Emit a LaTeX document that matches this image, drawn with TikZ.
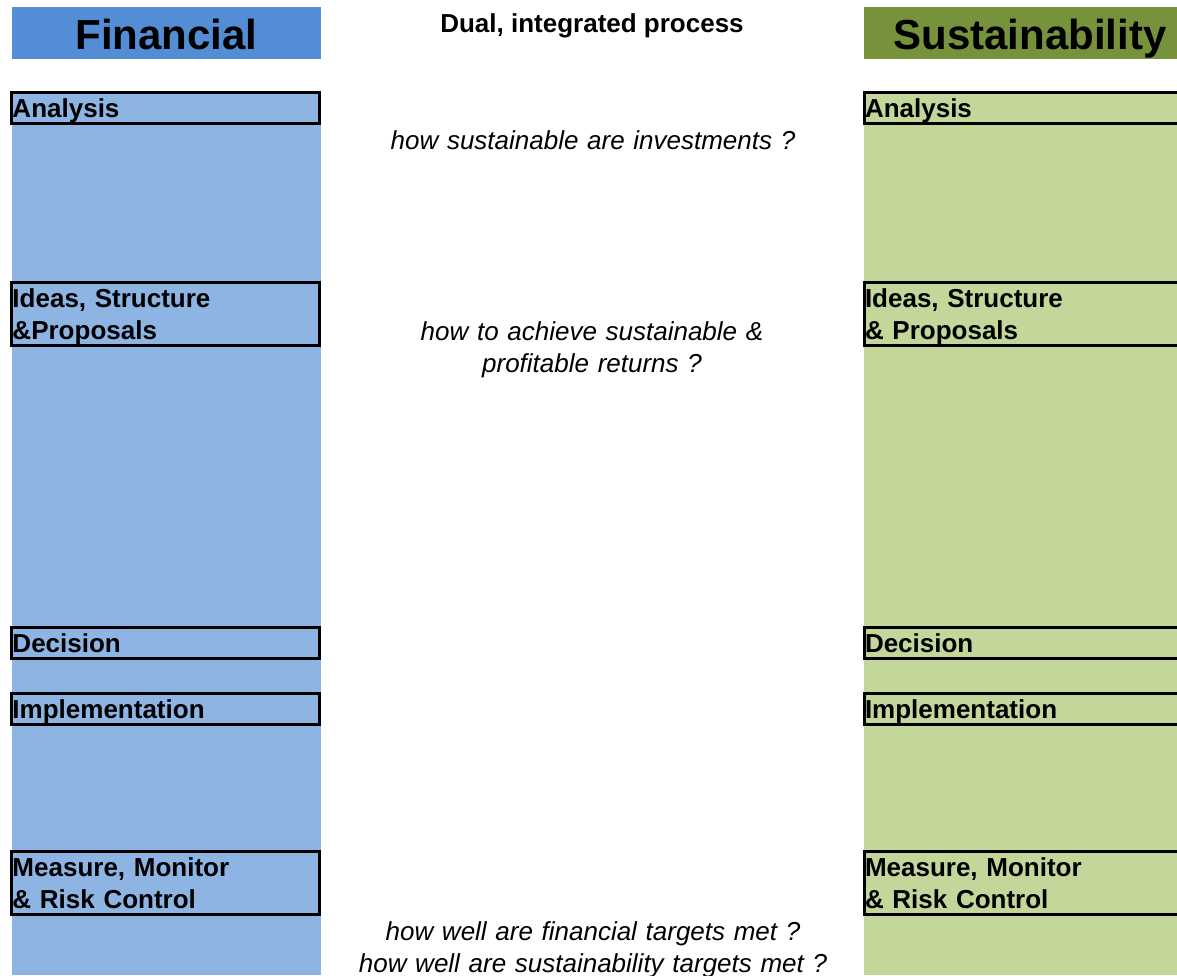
\documentclass[tikz,border=0pt]{standalone}
\usepackage{fontspec}
\setmainfont{Liberation Sans}
\usetikzlibrary{positioning}
\definecolor{finhead}{HTML}{538DD5}
\definecolor{finfill}{HTML}{8DB4E2}
\definecolor{sushead}{HTML}{76933C}
\definecolor{susfill}{HTML}{C4D79B}

\begin{document}
\begin{tikzpicture}[x=1pt,y=-1pt,
		head/.style={inner sep=0pt, minimum height=52pt,
			text height=32pt, text depth=0pt,
			font=\bfseries\fontsize{42}{50}\selectfont},
		stage/.style={draw, line width=3pt, inner xsep=1pt, inner ysep=0pt,
			outer sep=0pt, align=left, text height=24.5pt,
			font=\bfseries\fontsize{26}{32}\selectfont},
		fin/.style={minimum width=308pt, text width=306pt},
		sus/.style={minimum width=330pt, text width=328pt},
		single/.style={minimum height=31pt, text depth=6.5pt},
		double/.style={minimum height=63pt, text depth=38.5pt},
		question/.style={text width=520pt, align=center, inner sep=0pt,
			anchor=base, font=\itshape\fontsize{26}{32}\selectfont}]
		
		\useasboundingbox (0,0) rectangle (1177,975);
		
		% Columns
		\fill[finfill] (12,91) rectangle (321,975);
		\fill[susfill] (864,91) rectangle (1200,975);
		
		% Headers
		\node[head,
		fill=finhead,
		minimum width=309pt] (fhead) at (166.5,33) {Financial};
		
		\node[head,
		fill=sushead,
		minimum width=332pt] (shead) at (1030,33) {Sustainability};
		
		\node[anchor=base,
		inner sep=0pt,
		font=\bfseries\fontsize{26}{32}\selectfont] (title) at (592,32) {Dual, integrated process};
		
		% Financial stages
		\node[stage, fin, single,
		anchor=north west] (fin1) at (11.5,92.5) {Analysis};
		
		\node[stage, fin, double,
		below=159pt of fin1] (fin2) {Ideas, Structure\\\&Proposals};
		
		\node[stage, fin, single,
		below=282pt of fin2] (fin3) {Decision};
		
		\node[stage, fin, single,
		below=35pt of fin3] (fin4) {Implementation};
		
		\node[stage, fin, double,
		below=127pt of fin4] (fin5) {Measure, Monitor\\\& Risk Control};
		
		% Sustainability stages
		\node[stage, sus, single,
		right=544.5pt of fin1] (sus1) {Analysis};
		
		\node[stage, sus, double,
		right=544.5pt of fin2] (sus2) {Ideas, Structure\\\& Proposals};
		
		\node[stage, sus, single,
		right=544.5pt of fin3] (sus3) {Decision};
		
		\node[stage, sus, single,
		right=544.5pt of fin4] (sus4) {Implementation};
		
		\node[stage, sus, double,
		right=544.5pt of fin5] (sus5) {Measure, Monitor\\\& Risk Control};
		
		% Questions
		\node[question] (q1) at (593,149) {how sustainable are investments ?};
		
		\node[question] (q2) at (592,340) {how to achieve sustainable \&\\profitable returns ?};
		
		\node[question] (q3) at (593,940) {how well are financial targets met ?\\how well are sustainability targets met ?};
		
\end{tikzpicture}
\end{document}
